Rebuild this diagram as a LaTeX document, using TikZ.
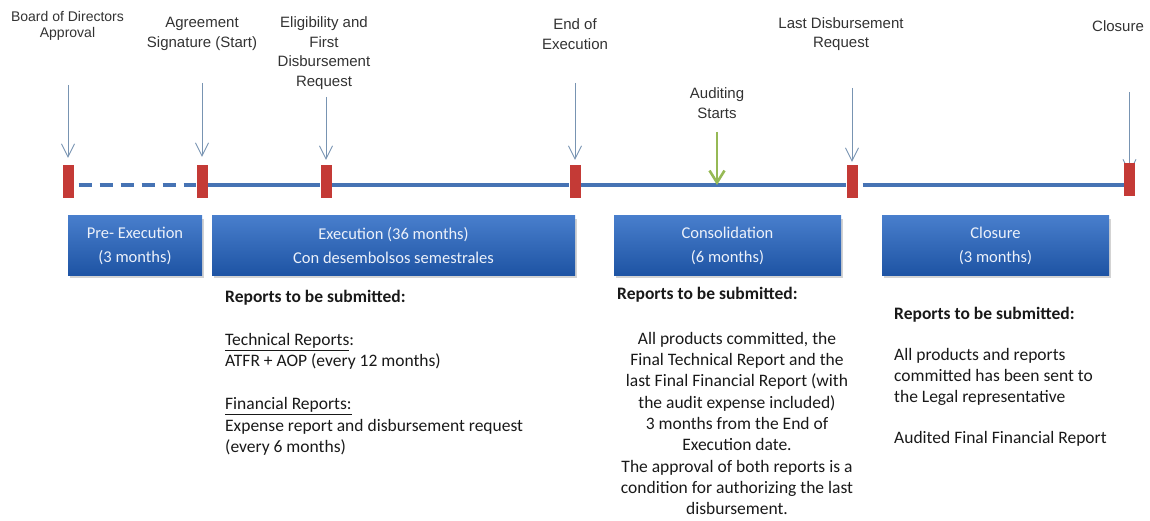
\documentclass[tikz,border=0pt]{standalone}
\usepackage{fontspec}
\setmainfont{Carlito}
\newfontfamily\arialf{Liberation Sans}
\usetikzlibrary{arrows.meta,shadows}
\pgfdeclarelayer{bg}
\pgfsetlayers{bg,main}
\definecolor{tline}{RGB}{70,115,180}
\definecolor{mred}{RGB}{196,58,54}
\definecolor{arrowc}{RGB}{120,148,178}
\definecolor{agreen}{RGB}{150,185,85}
\definecolor{boxtop}{RGB}{72,126,204}
\definecolor{boxbot}{RGB}{30,84,164}
\definecolor{boxtext}{RGB}{236,241,250}
\definecolor{labelgray}{RGB}{50,50,50}
\definecolor{bodytext}{RGB}{25,25,25}
\tikzset{
  lbl/.style={font=\arialf\fontsize{15}{19.5}\selectfont, text=labelgray, align=center, inner sep=0pt},
  marker/.style={fill=mred, minimum width=11pt, minimum height=33pt, inner sep=0pt},
  phase/.style={top color=boxtop, bottom color=boxbot, draw=none, text=boxtext,
    font=\fontsize{16.5}{24}\selectfont, align=center, minimum height=59pt, inner sep=0pt,
    drop shadow={shadow xshift=2pt, shadow yshift=-3pt, opacity=0.35, fill=gray}},
  body/.style={font=\fontsize{17.5}{21.5}\selectfont, text=bodytext, inner sep=0pt},
  tl/.style={draw=tline, line width=4.5pt},
  ptr/.style={draw=arrowc, line width=0.9pt, -{Straight Barb[length=13pt,width=13pt]}},
  gptr/.style={draw=agreen, line width=2.6pt, -{Straight Barb[length=12pt,width=15pt]}}
}
\begin{document}
\begin{tikzpicture}[x=1pt,y=-1pt]
\useasboundingbox (0,0) rectangle (1150,521);

% top labels
\node[lbl, font=\arialf\fontsize{14}{16.5}\selectfont] (l1) at (67.5,26) {Board of Directors\\Approval};
\node[lbl] (l2) at (202,34) {Agreement\\Signature (Start)};
\node[lbl] (l3) at (324,53) {Eligibility and\\First\\Disbursement\\Request};
\node[lbl] (l4) at (575,34) {End of\\Execution};
\node[lbl] (l5) at (717,103) {Auditing\\Starts};
\node[lbl] (l6) at (841,34) {Last Disbursement\\Request};
\node[lbl] (l7) at (1118,26) {Closure};

% markers
\node[marker] (m1) at (68,181.5) {};
\node[marker] (m2) at (202,181.5) {};
\node[marker] (m3) at (326,181.5) {};
\node[marker] (m4) at (575,181.5) {};
\node[marker] (m5) at (852,181.5) {};
\node[marker] (m6) at (1129.5,180) {};

% arrow start points
\coordinate (s1) at (68,85);
\coordinate (s2) at (202,83);
\coordinate (s3) at (326,97);
\coordinate (s4) at (575,83);
\coordinate (s5) at (852,88);
\coordinate (s6) at (1129.5,92);
\coordinate (s7) at (717,132);
\coordinate (audit) at (717,185);

\begin{pgfonlayer}{bg}
\draw[ptr] (s1) -- ([yshift=7pt]m1.north);
\draw[ptr] (s2) -- ([yshift=8pt]m2.north);
\draw[ptr] (s3) -- ([yshift=5pt]m3.north);
\draw[ptr] (s4) -- ([yshift=5pt]m4.north);
\draw[ptr] (s5) -- ([yshift=3pt]m5.north);
\draw[ptr] (s6) -- ([yshift=-10pt]m6.north);
% timeline
\draw[tl, dash pattern=on 13pt off 8pt, shorten <=5pt] ([yshift=-3.5pt]m1.east) -- ([yshift=-3.5pt]m2.west);
\draw[tl] ([yshift=-3.5pt]m2.east) -- ([yshift=-3.5pt]m3.west);
\draw[tl] ([yshift=-3.5pt]m3.east) -- ([yshift=-3.5pt]m4.west);
\draw[tl] ([yshift=-3.5pt]m4.east) -- ([yshift=-3.5pt]m5.west);
\draw[tl, shorten <=5pt] ([yshift=-3.5pt]m5.east) -- ([yshift=-5pt]m6.west);
\end{pgfonlayer}
\draw[gptr] (s7) -- (audit);

% phase boxes
\node[phase, minimum width=134pt] (b1) at (135,245.5) {Pre- Execution\\(3 months)};
\node[phase, minimum width=363pt] (b2) at (393.5,245.5) {Execution (36 months)\\Con desembolsos semestrales};
\node[phase, minimum width=227pt] (b3) at (727.5,245.5) {Consolidation\\(6 months)};
\node[phase, minimum width=227pt] (b4) at (995.5,245.5) {Closure\\(3 months)};

% report texts
\node[body, anchor=north west, align=left] (t1) at (225,290) {\textbf{Reports to be submitted:}\\[21.5pt]
\underline{Technical Reports}:\\
ATFR + AOP (every 12 months)\\[21.5pt]
\underline{Financial Reports:}\\
Expense report and disbursement request\\
(every 6 months)};

\node[body, anchor=north west] (t2) at (617,287) {\textbf{Reports to be submitted:}};
\node[body, anchor=north, align=center, font=\fontsize{17.5}{21.3}\selectfont] (t3) at (737,332) {All products committed, the\\
Final Technical Report and the\\
last Final Financial Report (with\\
the audit expense included)\\
3 months from the End of\\
Execution date.\\
The approval of both reports is a\\
condition for authorizing the last\\
disbursement.};

\node[body, anchor=north west] (t4) at (894,307) {\textbf{Reports to be submitted:}};
\node[body, anchor=north west, align=left, font=\fontsize{17.5}{21}\selectfont] (t5) at (894,348) {All products and reports\\
committed has been sent to\\
the Legal representative\\[20pt]
Audited Final Financial Report};
\end{tikzpicture}
\end{document}
